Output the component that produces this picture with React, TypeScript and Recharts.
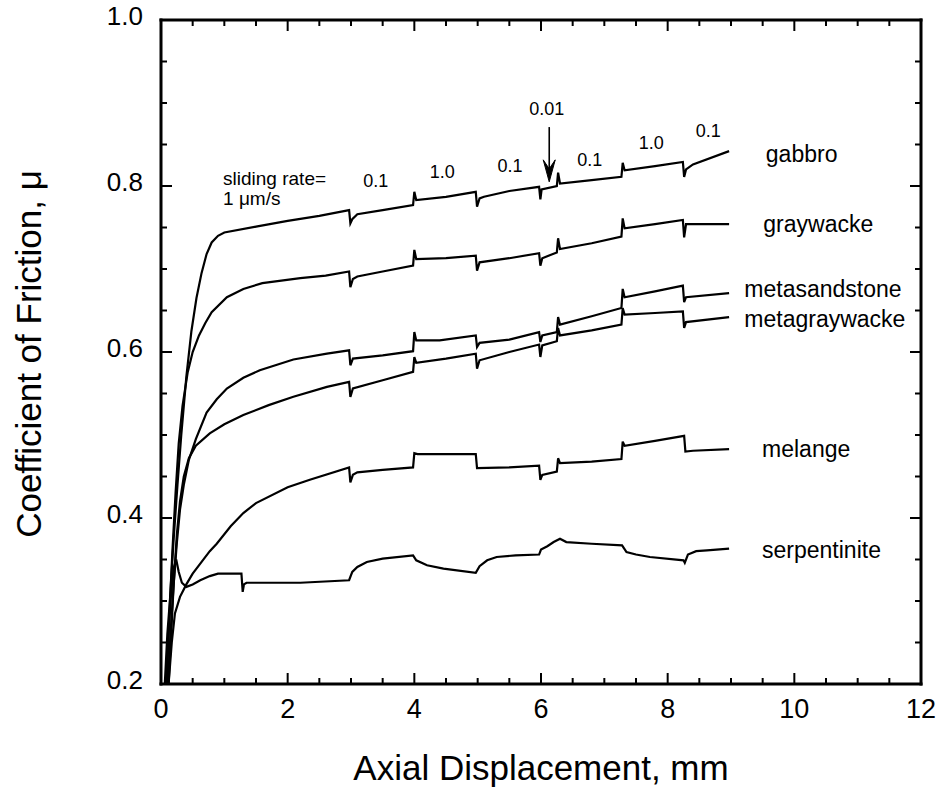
import React from 'react';
import { LineChart, Line, XAxis, YAxis, ReferenceDot, ReferenceLine } from 'recharts';

const FONT = '"Liberation Sans", Arial, Helvetica, sans-serif';

// axis ticks (major + minor)
const xTicks = [0, 0.5, 1, 1.5, 2, 2.5, 3, 3.5, 4, 4.5, 5, 5.5, 6, 6.5, 7, 7.5, 8, 8.5, 9, 9.5, 10, 10.5, 11, 11.5, 12];
const yTicks = [0.2, 0.25, 0.3, 0.35, 0.4, 0.45, 0.5, 0.55, 0.6, 0.65, 0.7, 0.75, 0.8, 0.85, 0.9, 0.95, 1.0];
const xMajorTicks = [0, 2, 4, 6, 8, 10, 12];
const yMajorTicks = [0.2, 0.4, 0.6, 0.8, 1.0];

const X_MIN = 0;
const X_MAX = 12;
const Y_MIN = 0.2;
const Y_MAX = 1.0;

// series: [axial displacement (mm), coefficient of friction]
const gabbro: [number, number][] = [
  [0.06, 0.2], [0.1, 0.26], [0.14, 0.3], [0.2, 0.375], [0.26, 0.44], [0.32, 0.5], [0.4, 0.57], [0.48, 0.625],
  [0.56, 0.665], [0.64, 0.695], [0.72, 0.718], [0.8, 0.732], [0.9, 0.74], [1.0, 0.744], [1.5, 0.751],
  [2.0, 0.758], [2.5, 0.764], [2.97, 0.771],
  [2.99, 0.755], [3.02, 0.76], [3.1, 0.766], [3.5, 0.771], [3.98, 0.777],
  [4.0, 0.793], [4.03, 0.783], [4.5, 0.787], [4.97, 0.793],
  [4.99, 0.775], [5.03, 0.785], [5.1, 0.787], [5.5, 0.794], [5.97, 0.799],
  [5.99, 0.784], [6.01, 0.796], [6.25, 0.8],
  [6.27, 0.816], [6.3, 0.803], [6.8, 0.807], [7.27, 0.811],
  [7.29, 0.828], [7.32, 0.819], [7.8, 0.824], [8.24, 0.829],
  [8.26, 0.811], [8.29, 0.82], [8.4, 0.826], [8.97, 0.842],
];

const graywacke: [number, number][] = [
  [0.09, 0.2], [0.13, 0.28], [0.18, 0.36], [0.23, 0.43], [0.28, 0.49], [0.34, 0.535], [0.42, 0.575], [0.5, 0.6],
  [0.6, 0.62], [0.7, 0.635], [0.8, 0.648], [1.04, 0.666], [1.3, 0.676], [1.6, 0.683], [2.2, 0.689], [2.6, 0.692], [2.97, 0.697],
  [2.99, 0.678], [3.03, 0.688], [3.1, 0.691], [3.5, 0.697], [3.98, 0.704],
  [4.0, 0.723], [4.03, 0.712], [4.5, 0.713], [4.97, 0.716],
  [4.99, 0.698], [5.03, 0.708], [5.5, 0.713], [5.97, 0.719],
  [5.99, 0.704], [6.02, 0.713], [6.25, 0.72],
  [6.27, 0.737], [6.3, 0.724], [6.8, 0.731], [7.27, 0.739],
  [7.29, 0.761], [7.32, 0.749], [7.8, 0.754], [8.24, 0.759],
  [8.26, 0.738], [8.29, 0.754], [8.97, 0.754],
];

const metasandstone: [number, number][] = [
  [0.11, 0.2], [0.15, 0.26], [0.2, 0.32], [0.25, 0.37], [0.3, 0.41], [0.36, 0.44], [0.44, 0.47], [0.55, 0.495],
  [0.72, 0.527], [0.88, 0.543], [1.04, 0.556], [1.3, 0.569], [1.56, 0.578], [2.09, 0.591], [2.62, 0.598], [2.97, 0.602],
  [2.99, 0.584], [3.03, 0.592], [3.5, 0.596], [3.98, 0.601],
  [4.0, 0.624], [4.03, 0.614], [4.4, 0.614], [4.97, 0.62],
  [4.99, 0.606], [5.03, 0.611], [5.5, 0.615], [5.97, 0.624],
  [5.99, 0.612], [6.02, 0.62], [6.25, 0.624],
  [6.27, 0.642], [6.3, 0.633], [6.8, 0.643], [7.27, 0.653],
  [7.29, 0.676], [7.32, 0.666], [7.8, 0.673], [8.24, 0.68],
  [8.26, 0.66], [8.29, 0.666], [8.97, 0.671],
];

const metagraywacke: [number, number][] = [
  [0.12, 0.2], [0.16, 0.26], [0.2, 0.32], [0.25, 0.38], [0.3, 0.42], [0.36, 0.45], [0.44, 0.472], [0.55, 0.487],
  [0.77, 0.502], [1.0, 0.513], [1.3, 0.524], [1.7, 0.536], [2.09, 0.546], [2.62, 0.558], [2.97, 0.564],
  [2.99, 0.546], [3.03, 0.556], [3.5, 0.566], [3.98, 0.576],
  [4.0, 0.594], [4.03, 0.587], [4.5, 0.592], [4.97, 0.598],
  [4.99, 0.58], [5.03, 0.59], [5.5, 0.6], [5.97, 0.609],
  [5.99, 0.594], [6.02, 0.608], [6.25, 0.613],
  [6.27, 0.629], [6.3, 0.62], [6.8, 0.626], [7.27, 0.633],
  [7.29, 0.653], [7.32, 0.645], [7.8, 0.647], [8.24, 0.649],
  [8.26, 0.629], [8.29, 0.636], [8.97, 0.642],
];

const melange: [number, number][] = [
  [0.12, 0.2], [0.17, 0.25], [0.22, 0.285], [0.3, 0.305], [0.4, 0.32], [0.5, 0.333], [0.62, 0.345], [0.77, 0.36],
  [0.88, 0.369], [1.1, 0.39], [1.3, 0.406], [1.5, 0.418], [2.0, 0.437], [2.35, 0.446], [2.97, 0.461],
  [2.99, 0.443], [3.03, 0.452], [3.1, 0.455], [3.5, 0.458], [3.98, 0.461],
  [4.0, 0.478], [4.05, 0.477], [4.97, 0.477],
  [4.99, 0.46], [5.5, 0.461], [5.97, 0.463],
  [5.99, 0.446], [6.02, 0.452], [6.25, 0.456],
  [6.27, 0.472], [6.3, 0.466], [6.8, 0.468], [7.27, 0.471],
  [7.29, 0.492], [7.32, 0.487], [7.8, 0.493], [8.26, 0.499],
  [8.28, 0.48], [8.4, 0.481], [8.97, 0.483],
];

const serpentinite: [number, number][] = [
  [0.08, 0.2], [0.12, 0.26], [0.16, 0.31], [0.2, 0.34], [0.24, 0.35], [0.28, 0.335], [0.33, 0.322], [0.4, 0.317],
  [0.5, 0.32], [0.62, 0.325], [0.77, 0.33], [0.9, 0.333], [1.27, 0.333],
  [1.29, 0.311], [1.31, 0.32], [1.35, 0.322], [2.2, 0.322], [2.97, 0.325],
  [3.02, 0.335], [3.1, 0.341], [3.25, 0.347], [3.5, 0.351], [3.98, 0.355],
  [4.03, 0.349], [4.2, 0.343], [4.46, 0.339], [4.97, 0.334],
  [5.03, 0.342], [5.15, 0.349], [5.3, 0.353], [5.6, 0.355], [5.97, 0.356],
  [6.0, 0.362], [6.1, 0.366], [6.2, 0.371], [6.3, 0.375],
  [6.4, 0.371], [6.8, 0.369], [7.28, 0.367],
  [7.35, 0.359], [7.5, 0.356], [7.72, 0.353], [8.25, 0.349], [8.27, 0.346],
  [8.32, 0.356], [8.45, 0.36], [8.62, 0.361], [8.97, 0.363],
];

const seriesList = [gabbro, graywacke, metasandstone, metagraywacke, melange, serpentinite];

// annotations
const rateLabels = ['0.1', '1.0', '0.1', '0.01', '0.1', '1.0', '0.1'];
const rateLabelX = [3.39, 4.44, 5.51, 6.09, 6.77, 7.74, 8.64];
const rateLabelY = [0.799, 0.81, 0.817, 0.886, 0.824, 0.845, 0.859];

const rockNames = ['gabbro', 'graywacke', 'metasandstone', 'metagraywacke', 'melange', 'serpentinite'];
const rockLabelX = [9.55, 9.51, 9.21, 9.21, 9.49, 9.49];
const rockLabelY = [0.829, 0.745, 0.666, 0.63, 0.473, 0.352];

const rateNoteLines = ['sliding rate=', '1 \u03bcm/s'];
const rateNoteX = [0.98, 0.98];
const rateNoteY = [0.801, 0.777];

const arrowX = 6.13;
const arrowTop = 0.871;
const arrowTip = 0.805;

// plot geometry (pixels) used only to turn tick lengths into axis units
const PLOT_W = 760;
const PLOT_H = 664;
const MAJOR_PX = 11;
const MINOR_PX = 6;
const pxToX = (px: number) => (px * (X_MAX - X_MIN)) / PLOT_W;
const pxToY = (px: number) => (px * (Y_MAX - Y_MIN)) / PLOT_H;
const isMajorX = (v: number) => xMajorTicks.some((m) => Math.abs(m - v) < 1e-6);
const isMajorY = (v: number) => yMajorTicks.some((m) => Math.abs(m - v) < 1e-6);

const BottomLabel = (p: any) => {
  const v = p.payload.value;
  if (!isMajorX(v)) return <g />;
  return (
    <text x={p.x} y={p.y + 34} textAnchor="middle" fontSize={27} fontFamily={FONT} fill="#000">
      {v}
    </text>
  );
};

const LeftLabel = (p: any) => {
  const v = p.payload.value;
  if (!isMajorY(v)) return <g />;
  return (
    <text x={p.x - 18} y={p.y + 5} textAnchor="end" fontSize={26} fontFamily={FONT} fill="#000">
      {v.toFixed(1)}
    </text>
  );
};

const XTitle = (p: any) => {
  const vb = p.viewBox;
  return (
    <text x={vb.x + vb.width / 2} y={vb.y + 96} textAnchor="middle" fontSize={35} fontFamily={FONT} fill="#000">
      Axial Displacement, mm
    </text>
  );
};

const YTitle = (p: any) => {
  const vb = p.viewBox;
  const cy = vb.y + vb.height / 2 + 2;
  return (
    <text x={41} y={cy} transform={`rotate(-90, 41, ${cy})`} textAnchor="middle" fontSize={35} fontFamily={FONT} fill="#000">
      Coefficient of Friction, {'\u03bc'}
    </text>
  );
};

const textShape = (label: string, anchor: string, size: number) => (p: any) => (
  <text x={p.cx} y={p.cy} textAnchor={anchor} fontSize={size} fontFamily={FONT} fill="#000">
    {label}
  </text>
);

const arrowHead = (p: any) => (
  <path
    d={`M${p.cx},${p.cy} L${p.cx - 6},${p.cy - 22} L${p.cx},${p.cy - 13} L${p.cx + 6},${p.cy - 22} Z`}
    fill="#000"
    stroke="#000"
    strokeWidth={1}
  />
);

const axisLineStyle = { stroke: '#000', strokeWidth: 3, strokeLinecap: 'square' as const };

export default function App() {
  const tickSegs: { a: { x: number; y: number }; b: { x: number; y: number } }[] = [];
  xTicks.forEach((v) => {
    const len = pxToY(isMajorX(v) ? MAJOR_PX : MINOR_PX);
    tickSegs.push({ a: { x: v, y: Y_MIN }, b: { x: v, y: Y_MIN + len } });
    tickSegs.push({ a: { x: v, y: Y_MAX }, b: { x: v, y: Y_MAX - len } });
  });
  yTicks.forEach((v) => {
    const len = pxToX(isMajorY(v) ? MAJOR_PX : MINOR_PX);
    tickSegs.push({ a: { x: X_MIN, y: v }, b: { x: X_MIN + len, y: v } });
    tickSegs.push({ a: { x: X_MAX, y: v }, b: { x: X_MAX - len, y: v } });
  });

  return (
    <div style={{ position: 'absolute', left: 0, top: 0, background: '#fff' }}>
      <LineChart width={942} height={790} margin={{ top: 0, right: 0, bottom: 0, left: 0 }}>
        <XAxis
          xAxisId="top"
          orientation="top"
          type="number"
          dataKey="x"
          domain={[X_MIN, X_MAX]}
          ticks={xTicks}
          height={20}
          tickLine={false}
          axisLine={axisLineStyle}
          tick={false}
        />
        <XAxis
          type="number"
          dataKey="x"
          domain={[X_MIN, X_MAX]}
          ticks={xTicks}
          interval={0}
          height={106}
          tickSize={0}
          tickMargin={0}
          tickLine={false}
          axisLine={axisLineStyle}
          tick={BottomLabel}
          label={XTitle}
        />
        <YAxis
          type="number"
          domain={[Y_MIN, Y_MAX]}
          ticks={yTicks}
          interval={0}
          width={161}
          tickSize={0}
          tickMargin={0}
          tickLine={false}
          axisLine={axisLineStyle}
          tick={LeftLabel}
          label={YTitle}
          allowDataOverflow
        />
        <YAxis
          yAxisId="right"
          orientation="right"
          type="number"
          domain={[Y_MIN, Y_MAX]}
          ticks={yTicks}
          width={21}
          tickLine={false}
          axisLine={axisLineStyle}
          tick={false}
        />
        {tickSegs.map((s, i) => (
          <ReferenceLine key={'t' + i} segment={[s.a, s.b]} stroke="#000" strokeWidth={2} ifOverflow="visible" />
        ))}
        {seriesList.map((s, i) => (
          <Line
            key={rockNames[i]}
            data={s.map(([x, y]) => ({ x, y }))}
            dataKey="y"
            type="linear"
            stroke="#000"
            strokeWidth={2.2}
            dot={false}
            activeDot={false}
            isAnimationActive={false}
          />
        ))}
        {rateLabels.map((t, i) => (
          <ReferenceDot key={'r' + i} x={rateLabelX[i]} y={rateLabelY[i]} r={0} shape={textShape(t, 'middle', 18)} />
        ))}
        {rockNames.map((t, i) => (
          <ReferenceDot key={'n' + i} x={rockLabelX[i]} y={rockLabelY[i]} r={0} shape={textShape(t, 'start', 23)} />
        ))}
        {rateNoteLines.map((t, i) => (
          <ReferenceDot key={'s' + i} x={rateNoteX[i]} y={rateNoteY[i]} r={0} shape={textShape(t, 'start', 19)} />
        ))}
        <ReferenceLine
          segment={[
            { x: arrowX, y: arrowTop },
            { x: arrowX, y: arrowTip + 0.012 },
          ]}
          stroke="#000"
          strokeWidth={1.6}
        />
        <ReferenceDot x={arrowX} y={arrowTip} r={0} shape={arrowHead} />
      </LineChart>
    </div>
  );
}
